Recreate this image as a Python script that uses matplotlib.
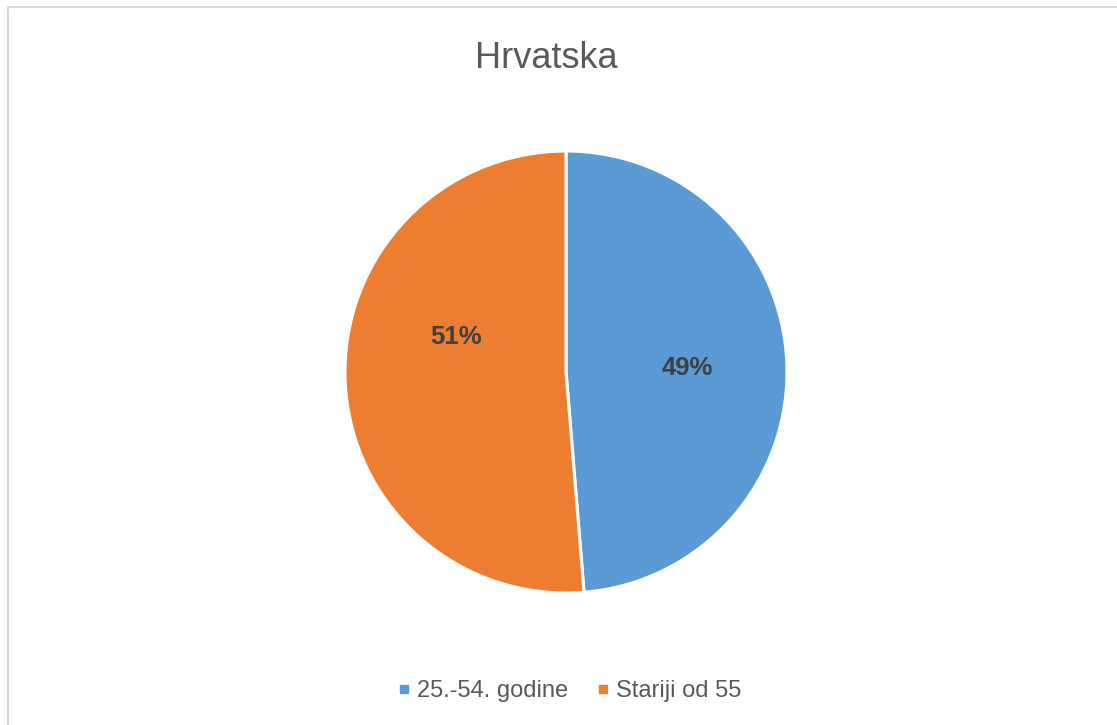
import matplotlib
matplotlib.use("Agg")
import matplotlib.pyplot as plt
from matplotlib.lines import Line2D
from matplotlib.patches import Rectangle
import numpy as np

title = "Hrvatska"
categories = ["25.-54. godine", "Stariji od 55"]
values = [48.7, 51.3]
colors = ["#5B9BD5", "#ED7D31"]

W, H = 1117, 725
fig = plt.figure(figsize=(W / 100, H / 100), dpi=100)
ax = fig.add_axes([0, 0, 1, 1])

cx, cy, r = 566, H - 372, 221
wedges, _ = ax.pie(values, colors=colors, startangle=90, counterclock=False,
                   center=(cx, cy), radius=r,
                   wedgeprops=dict(edgecolor="white", linewidth=2.2))
ax.set_xlim(0, W)
ax.set_ylim(0, H)
ax.set_aspect("equal")
ax.axis("off")

# data labels (angle offset / radial fraction tweaks to match placement)
label_adj = [(-0.5, 0.55), (-20.0, 0.523)]
for w, v, (dang, frac) in zip(wedges, values, label_adj):
    ang = np.deg2rad((w.theta1 + w.theta2) / 2 + dang)
    ax.text(cx + frac * r * np.cos(ang), cy + frac * r * np.sin(ang),
            f"{round(v):d}%", ha="center", va="center", fontsize=18.5,
            fontweight="bold", color="#404040", family="Liberation Sans")

fig.text(546 / W, 1 - 58 / H, title, ha="center", va="center", fontsize=26,
         color="#595959", family="Liberation Sans")

handles = [Line2D([], [], marker="s", linestyle="none", markersize=6,
                  markerfacecolor=c, markeredgecolor=c) for c in colors]
fig.legend(handles, categories, loc="center", bbox_to_anchor=(569.5 / W, 1 - 691 / H),
           ncol=2, frameon=False, prop=dict(family="Liberation Sans", size=17),
           labelcolor="#595959", handlelength=0.5, handletextpad=0.3,
           columnspacing=1.22, borderpad=0)

fig.patches.append(Rectangle((7.5 / W, -0.1), 1.2, 1.1 - 7.5 / H,
                             transform=fig.transFigure, fill=False,
                             edgecolor="#D9D9D9", linewidth=1.5))

fig.savefig("out.png", dpi=100, facecolor="white")
